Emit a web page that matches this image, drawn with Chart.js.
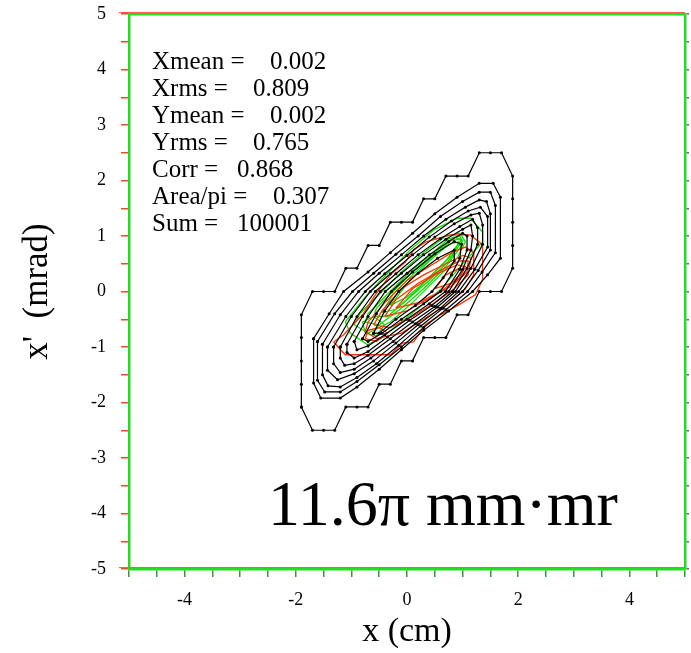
<!DOCTYPE html>
<html>
<head>
<meta charset="utf-8">
<script src="https://cdn.jsdelivr.net/npm/chart.js@4.4.1/dist/chart.umd.min.js"></script>
<style>
body { margin: 0; background: #fff; }
#wrap { width: 691px; height: 653px; }
</style>
</head>
<body>
<div id="wrap"><canvas id="phase" width="691" height="653"></canvas></div>
<script>
// tick values (every 0.5) and the ones that carry a label
var xTickValues = [-5, -4.5, -4, -3.5, -3, -2.5, -2, -1.5, -1, -0.5, 0, 0.5, 1, 1.5, 2, 2.5, 3, 3.5, 4, 4.5, 5];
var xLabelValues = [-4, -2, 0, 2, 4];
var yTickValues = [-5, -4.5, -4, -3.5, -3, -2.5, -2, -1.5, -1, -0.5, 0, 0.5, 1, 1.5, 2, 2.5, 3, 3.5, 4, 4.5, 5];
var yLabelValues = [-5, -4, -3, -2, -1, 0, 1, 2, 3, 4, 5];

// statistics box
var statNames = ["Xmean =", "Xrms =", "Ymean =", "Yrms =", "Corr =", "Area/pi =", "Sum ="];
var statValues = ["0.002", "0.809", "0.002", "0.765", "0.868", "0.307", "100001"];
var emittanceText = "11.6\u03c0 mm\u00b7mr";

// black contours, outermost first (x cm, x' mrad)
var black0 = [[-1.9,-2.08],[-1.9,-1.67],[-1.9,-1.25],[-1.9,-0.83],[-1.9,-0.42],[-1.7,0],[-1.5,0],[-1.3,0],[-1.1,0.42],[-0.9,0.42],[-0.7,0.83],[-0.5,0.83],[-0.3,1.25],[-0.1,1.25],[0.1,1.25],[0.3,1.67],[0.5,1.67],[0.7,2.08],[0.9,2.08],[1.1,2.08],[1.3,2.5],[1.5,2.5],[1.7,2.5],[1.9,2.08],[1.9,1.67],[1.9,1.25],[1.9,0.83],[1.9,0.42],[1.7,0],[1.5,0],[1.3,0],[1.1,-0.42],[0.9,-0.42],[0.7,-0.83],[0.5,-0.83],[0.3,-0.83],[0.1,-1.25],[-0.1,-1.25],[-0.3,-1.67],[-0.5,-1.67],[-0.7,-2.08],[-0.9,-2.08],[-1.1,-2.08],[-1.3,-2.5],[-1.5,-2.5],[-1.7,-2.5]];
var black1 = [[-1.68,-0.85],[-1.4,-0.4],[-1.14,0],[-0.7,0.35],[-0.3,0.7],[0.1,1.05],[0.5,1.4],[0.9,1.7],[1.3,1.95],[1.55,1.95],[1.68,1.7],[1.68,0.6],[1.45,0.3],[1.18,0],[0.75,-0.35],[0.3,-0.7],[-0.1,-1.05],[-0.5,-1.4],[-0.9,-1.72],[-1.2,-1.92],[-1.55,-1.92],[-1.68,-1.65]];
var black2 = [[-1.61,-0.9],[-1.3,-0.4],[-0.98,0],[-0.6,0.33],[-0.2,0.67],[0.2,1.0],[0.6,1.35],[1.0,1.62],[1.3,1.79],[1.5,1.79],[1.59,1.55],[1.59,0.7],[1.35,0.35],[1.09,0],[0.7,-0.33],[0.3,-0.65],[-0.1,-1.0],[-0.5,-1.32],[-0.9,-1.62],[-1.2,-1.81],[-1.48,-1.81],[-1.61,-1.6]];
var black3 = [[-1.52,-0.95],[-1.2,-0.42],[-0.87,0],[-0.5,0.33],[-0.1,0.66],[0.3,1.0],[0.7,1.3],[1.05,1.52],[1.3,1.65],[1.43,1.62],[1.5,1.4],[1.5,0.75],[1.28,0.38],[1.0,0],[0.65,-0.3],[0.25,-0.62],[-0.15,-0.97],[-0.55,-1.3],[-0.9,-1.55],[-1.2,-1.72],[-1.42,-1.7],[-1.52,-1.5]];
var black4 = [[-1.43,-1.0],[-1.1,-0.45],[-0.75,0],[-0.4,0.32],[0.0,0.65],[0.4,0.98],[0.8,1.27],[1.1,1.45],[1.32,1.52],[1.45,1.35],[1.45,0.8],[1.22,0.4],[0.93,0],[0.6,-0.3],[0.2,-0.6],[-0.2,-0.93],[-0.6,-1.25],[-0.95,-1.48],[-1.25,-1.59],[-1.43,-1.42]];
var black5 = [[-1.32,-1.0],[-1.0,-0.45],[-0.66,0],[-0.3,0.32],[0.1,0.66],[0.5,0.98],[0.85,1.22],[1.15,1.38],[1.3,1.41],[1.36,1.2],[1.36,0.85],[1.15,0.42],[0.87,0],[0.55,-0.28],[0.15,-0.58],[-0.25,-0.9],[-0.65,-1.2],[-0.95,-1.4],[-1.2,-1.46],[-1.32,-1.3]];
var black6 = [[-1.2,-1.0],[-0.9,-0.45],[-0.57,0],[-0.2,0.32],[0.2,0.66],[0.6,0.95],[0.95,1.17],[1.18,1.3],[1.27,1.15],[1.27,0.85],[1.08,0.42],[0.82,0],[0.5,-0.27],[0.1,-0.55],[-0.3,-0.85],[-0.7,-1.15],[-0.95,-1.3],[-1.12,-1.33],[-1.2,-1.2]];
var black7 = [[-1.08,-0.95],[-0.8,-0.45],[-0.48,0],[-0.1,0.33],[0.3,0.66],[0.7,0.94],[1.0,1.12],[1.15,1.2],[1.18,1.0],[1.15,0.75],[1.0,0.4],[0.75,0],[0.45,-0.25],[0.05,-0.52],[-0.35,-0.82],[-0.7,-1.08],[-0.95,-1.2],[-1.08,-1.1]];
var black8 = [[-0.95,-0.9],[-0.7,-0.45],[-0.39,0],[0.0,0.33],[0.4,0.66],[0.75,0.9],[1.0,1.05],[1.08,1.0],[1.08,0.75],[0.95,0.4],[0.69,0],[0.4,-0.22],[0.0,-0.5],[-0.4,-0.78],[-0.7,-0.98],[-0.9,-1.05]];
var black9 = [[-0.8,-0.85],[-0.55,-0.4],[-0.28,0],[0.1,0.35],[0.5,0.68],[0.85,0.9],[0.98,0.85],[0.95,0.6],[0.8,0.3],[0.6,0],[0.3,-0.22],[-0.1,-0.5],[-0.45,-0.75],[-0.7,-0.9]];
var black10 = [[-0.6,-0.75],[-0.4,-0.35],[-0.15,0],[0.2,0.33],[0.55,0.6],[0.85,0.75],[0.85,0.55],[0.65,0.25],[0.45,0],[0.15,-0.25],[-0.2,-0.5],[-0.5,-0.75]];

// red contours
var red1 = [[-1.32,-0.91],[-1.11,-1.14],[-0.69,-1.14],[-0.3,-1.14],[-0.08,-0.93],[0.12,-0.91],[0.33,-0.6],[0.6,-0.42],[0.93,-0.24],[1.23,-0.06],[1.36,0.21],[1.36,0.84],[1.14,1.02],[0.78,1.02],[0.33,0.89],[0.12,0.75],[-0.03,0.53],[-0.3,0.3],[-0.57,-0.06],[-0.8,-0.42],[-1.14,-0.78]];
var red2 = [[-0.75,-0.72],[-0.55,-0.85],[-0.1,-0.75],[0.3,-0.5],[0.7,-0.25],[1.05,0.05],[1.2,0.3],[1.2,0.7],[1.05,0.8],[0.8,0.7],[0.4,0.45],[0.0,0.2],[-0.4,-0.2],[-0.7,-0.55]];
var red3 = [[-0.6,-0.6],[-0.3,-0.65],[0.1,-0.45],[0.5,-0.2],[0.85,0.05],[1.1,0.3],[1.15,0.6],[1.0,0.65],[0.7,0.5],[0.3,0.3],[-0.1,0.05],[-0.45,-0.35]];
var red4 = [[-0.4,-0.45],[0.0,-0.35],[0.4,-0.12],[0.8,0.1],[1.08,0.35],[1.1,0.55],[0.95,0.55],[0.6,0.38],[0.2,0.15],[-0.2,-0.15]];
var red5 = [[-0.2,-0.3],[0.2,-0.2],[0.6,0.0],[0.95,0.25],[1.05,0.45],[0.9,0.48],[0.5,0.3],[0.1,0.05]];
var red6 = [[0.5,0.05],[0.8,0.15],[1.0,0.35],[0.95,0.42],[0.7,0.3]];
var red7 = [[-0.75,-0.85],[-0.55,-0.9],[-0.35,-0.75],[-0.5,-0.65],[-0.7,-0.7]];

// green contours
var green1 = [[-1.11,-0.55],[-1.02,-0.75],[-0.71,-0.96],[-0.44,-0.82],[0.06,-0.42],[0.6,0.03],[1.09,0.6],[1.36,0.89],[1.36,1.07],[1.14,1.32],[0.91,1.32],[0.48,1.11],[0.06,0.75],[-0.35,0.33],[-0.75,-0.1]];
var green2 = [[-0.95,-0.6],[-0.7,-0.75],[-0.3,-0.55],[0.1,-0.2],[0.5,0.2],[0.9,0.6],[1.05,0.9],[0.95,1.05],[0.7,1.0],[0.3,0.7],[-0.1,0.35],[-0.5,-0.05],[-0.85,-0.4]];
var green3 = [[-0.75,-0.55],[-0.5,-0.6],[-0.1,-0.3],[0.3,0.05],[0.7,0.45],[1.0,0.85],[0.95,1.0],[0.75,0.95],[0.4,0.65],[0.0,0.3],[-0.4,-0.1],[-0.7,-0.4]];
var green4 = [[-0.6,-0.45],[-0.35,-0.45],[0.0,-0.15],[0.4,0.2],[0.75,0.55],[1.0,0.92],[0.85,0.98],[0.5,0.7],[0.1,0.35],[-0.3,-0.05],[-0.55,-0.3]];
var green5 = [[-0.45,-0.38],[-0.2,-0.32],[0.15,0.0],[0.5,0.35],[0.8,0.65],[0.98,0.95],[0.8,0.92],[0.45,0.62],[0.1,0.3],[-0.25,-0.05]];
var green6 = [[-0.3,-0.25],[0.0,-0.1],[0.35,0.2],[0.7,0.55],[0.95,0.9],[0.75,0.85],[0.4,0.55],[0.05,0.2]];
var green7 = [[-0.75,-0.75],[-0.55,-0.8],[-0.4,-0.6],[-0.6,-0.45],[-0.8,-0.55]];

var blackContours = [black0, black1, black2, black3, black4, black5, black6, black7, black8, black9, black10];
var redContours = [red1, red2, red3, red4, red5, red6, red7];
var greenContours = [green1, green2, green3, green4, green5, green6, green7];

function loop(pts) {
    var d = pts.map(function (p) { return { x: p[0], y: p[1] }; });
    d.push({ x: pts[0][0], y: pts[0][1] });
    return d;
}

var datasets = [];
blackContours.forEach(function (c) {
    datasets.push({ data: loop(c), showLine: true, borderColor: '#000', borderWidth: 1.2,
        pointRadius: 1.5, pointBackgroundColor: '#000', pointBorderWidth: 0 });
});
redContours.forEach(function (c) {
    datasets.push({ data: loop(c), showLine: true, borderColor: '#ff3300', borderWidth: 1.3, pointRadius: 0 });
});
greenContours.forEach(function (c) {
    datasets.push({ data: loop(c), showLine: true, borderColor: '#11dd00', borderWidth: 1.3, pointRadius: 0 });
});

var serif = '"Liberation Serif", "Times New Roman", serif';

function noPad(s) { s.paddingTop = 0; s.paddingBottom = 0; s.paddingLeft = 0; s.paddingRight = 0; }

// stats box, emittance label and thin red frame shadow
var textPlugin = {
    id: 'texts',
    afterDraw: function (chart) {
        var ctx = chart.ctx, a = chart.chartArea;
        ctx.save();
        ctx.strokeStyle = '#ff6040';
        ctx.lineWidth = 1;
        ctx.beginPath();
        ctx.moveTo(a.left - 10, a.top - 1.5); ctx.lineTo(a.right, a.top - 1.5);
        ctx.moveTo(a.left - 10, a.bottom - 1.5); ctx.lineTo(a.right, a.bottom - 1.5);
        ctx.stroke();
        ctx.fillStyle = '#000';
        ctx.textBaseline = 'alphabetic';
        ctx.font = '25px ' + serif;
        var valX = [141, 124, 141, 124, 108, 144, 108];
        for (var i = 0; i < statNames.length; i++) {
            var yb = a.top + 55 + i * 27;
            ctx.fillText(statNames[i], a.left + 23, yb);
            ctx.fillText(statValues[i], a.left + valX[i], yb);
        }
        ctx.font = '64px ' + serif;
        ctx.fillText(emittanceText, a.left + 139, a.top + 511);
        ctx.restore();
    }
};

new Chart(document.getElementById('phase'), {
    type: 'scatter',
    data: { datasets: datasets },
    options: {
        responsive: false,
        animation: false,
        layout: { padding: 0 },
        plugins: { legend: { display: false }, tooltip: { enabled: false } },
        scales: {
            x: {
                type: 'linear', position: 'bottom', min: -5, max: 5,
                afterBuildTicks: function (s) { s.ticks = xTickValues.map(function (v) { return { value: v }; }); },
                afterFit: function (s) { s.height = 84; noPad(s); },
                ticks: {
                    autoSkip: false, maxRotation: 0, padding: 12, color: '#000',
                    font: { family: serif, size: 18 },
                    callback: function (v) { return xLabelValues.indexOf(v) >= 0 ? String(v) : ''; }
                },
                grid: { drawOnChartArea: false, tickLength: 8, color: '#2ea02e', lineWidth: 1.5 },
                border: { color: '#22dd22', width: 2.5 },
                title: { display: true, text: 'x (cm)', color: '#000', font: { family: serif, size: 34 }, padding: { top: 0, bottom: 1 } }
            },
            xTop: {
                type: 'linear', position: 'top', min: -5, max: 5,
                afterFit: function (s) { s.height = 14; noPad(s); },
                ticks: { display: false },
                grid: { drawOnChartArea: false, drawTicks: false },
                border: { color: '#22dd22', width: 2.5 }
            },
            y: {
                type: 'linear', position: 'left', min: -5, max: 5,
                afterBuildTicks: function (s) { s.ticks = yTickValues.map(function (v) { return { value: v }; }); },
                afterFit: function (s) { s.width = 129; noPad(s); },
                ticks: {
                    autoSkip: false, padding: 15, color: '#000',
                    font: { family: serif, size: 18 },
                    callback: function (v) { return yLabelValues.indexOf(v) >= 0 ? String(v) : ''; }
                },
                grid: { drawOnChartArea: false, tickLength: 8, color: '#e0502e', lineWidth: 1.5 },
                border: { color: '#22dd22', width: 2.5 },
                title: { display: true, text: "x'  (mrad)", color: '#000', font: { family: serif, size: 35 }, padding: { top: 17, bottom: 0 } }
            },
            yRight: {
                type: 'linear', position: 'right', min: -5, max: 5,
                afterBuildTicks: function (s) { s.ticks = yTickValues.map(function (v) { return { value: v }; }); },
                afterFit: function (s) { s.width = 6; noPad(s); },
                ticks: { display: false },
                grid: { drawOnChartArea: false, tickLength: 4, color: '#666', lineWidth: 1.5 },
                border: { color: '#22dd22', width: 2.5 }
            }
        }
    },
    plugins: [textPlugin]
});
</script>
</body>
</html>
